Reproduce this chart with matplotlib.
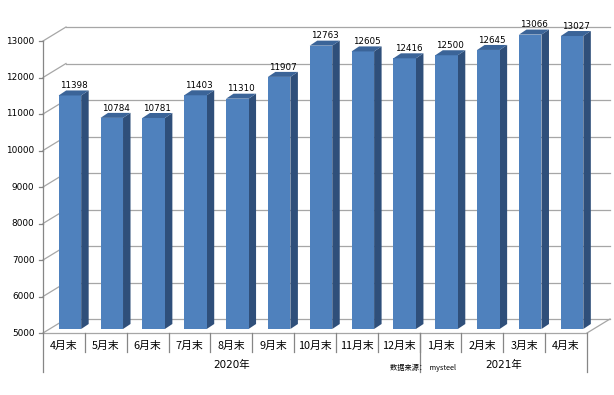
import numpy as np
import matplotlib
matplotlib.use("Agg")
import matplotlib.pyplot as plt
from matplotlib.patches import Polygon
import matplotlib.transforms as mtransforms

plt.rcParams['font.family'] = ['DejaVu Sans', 'Noto Sans CJK SC']

categories = ["4月末", "5月末", "6月末", "7月末", "8月末", "9月末", "10月末",
              "11月末", "12月末", "1月末", "2月末", "3月末", "4月末"]
values = [11398, 10784, 10781, 11403, 11310, 11907, 12763,
          12605, 12416, 12500, 12645, 13066, 13027]
years = ["2020年", "2021年"]
year_counts = [9, 4]
yticks = [5000, 6000, 7000, 8000, 9000, 10000, 11000, 12000, 13000]
source_text = "数据来源：  mysteel"

W, H = 614, 395
fig = plt.figure(figsize=(W / 100, H / 100), dpi=100)
fig.patch.set_facecolor("white")

X0, X1 = 43, 587      # pixel x of category edges -0.5 and 12.5
Y0, Y1 = 333, 41      # pixel y of 5000 and 13000
ax = fig.add_axes([X0 / W, 1 - Y0 / H, (X1 - X0) / W, (Y0 - Y1) / H])
n = len(values)
ymin, ymax = yticks[0], yticks[-1]
ax.set_xlim(-0.5, n - 0.5)
ax.set_ylim(ymin, ymax)
ax.axis("off")

cx = (X1 - X0) / n
cy = (Y0 - Y1) / (ymax - ymin)
dxp = lambda p: p / cx
dyp = lambda p: p / cy

WDX, WDY = dxp(23), dyp(14)     # wall depth
BDX, BDY = dxp(6), dyp(4)       # bar plane offset
SDX, SDY = dxp(7.5), dyp(5)     # bar depth
BW = dxp(22.5)                  # bar width

grid_c = "#a6a6a6"
axis_c = "#868686"
xl, xr = -0.5, n - 0.5

# back wall gridlines + left wall diagonals
for t in yticks:
    ax.plot([xl + WDX, xr + WDX], [t + WDY, t + WDY], color=grid_c, lw=0.9,
            clip_on=False, zorder=1)
    ax.plot([xl, xl + WDX], [t, t + WDY], color=grid_c, lw=0.9, clip_on=False, zorder=1)
# floor
ax.plot([xl, xr], [ymin, ymin], color=grid_c, lw=0.9, clip_on=False, zorder=1)
ax.plot([xr, xr + WDX], [ymin, ymin + WDY], color=grid_c, lw=0.9, clip_on=False, zorder=1)

# bars
x = np.arange(n)
vals = np.array(values, dtype=float)
ax.bar(x + BDX, vals - ymin, bottom=ymin + BDY, width=BW, color="#4f81bd",
       edgecolor="none", zorder=3, clip_on=False)
for xi, v in zip(x, vals):
    left = xi + BDX - BW / 2
    right = left + BW
    side = Polygon([(right, ymin + BDY), (right + SDX, ymin + BDY + SDY),
                    (right + SDX, v + BDY + SDY), (right, v + BDY)],
                   closed=True, facecolor="#2f4f7a", edgecolor="none",
                   zorder=2.9, clip_on=False)
    top = Polygon([(left, v + BDY), (left + SDX, v + BDY + SDY),
                   (right + SDX, v + BDY + SDY), (right, v + BDY)],
                  closed=True, facecolor="#3b6498", edgecolor="none",
                  zorder=3.1, clip_on=False)
    ax.add_patch(side)
    ax.add_patch(top)
    ax.annotate(f"{int(v)}", (xi + BDX + SDX / 2, v + BDY + SDY),
                xytext=(0, 1.6), textcoords="offset points",
                ha="center", va="baseline", fontsize=6.3, color="black",
                zorder=5, annotation_clip=False)

# y axis line, ticks and labels
bt = mtransforms.blended_transform_factory(ax.transData, fig.transFigure)
fy = lambda p: 1 - p / H
ax.plot([xl, xl], [fy(Y1), fy(372)], color=axis_c, lw=0.9, transform=bt, clip_on=False)
for t in yticks:
    ax.plot([xl - dxp(4), xl], [t, t], color=axis_c, lw=0.9, clip_on=False)
    ax.text(xl - dxp(8.5), t, f"{t}", ha="right", va="center", fontsize=6.4)

# category separators and labels
for k in range(1, n):
    ax.plot([k - 0.5, k - 0.5], [fy(Y0), fy(352)], color=axis_c, lw=0.9,
            transform=bt, clip_on=False)
start = 0
bounds = [0]
for c in year_counts:
    start += c
    bounds.append(start)
for b in bounds[1:]:
    ax.plot([b - 0.5, b - 0.5], [fy(Y0), fy(372)], color=axis_c, lw=0.9,
            transform=bt, clip_on=False)
for xi, lab in zip(x, categories):
    ax.text(xi, fy(346), lab, ha="center", va="center", fontsize=7.8,
            family=["Noto Sans CJK SC"], transform=bt)
for i, yl in enumerate(years):
    c = (bounds[i] + bounds[i + 1] - 1) / 2
    ax.text(c, fy(365), yl, ha="center", va="center", fontsize=7.5,
            family=["DejaVu Sans", "Noto Sans CJK SC"], transform=bt)

fig.text(423 / W, fy(368), source_text, ha="center", va="center", fontsize=5.2,
         family=["Noto Sans CJK SC", "DejaVu Sans"])

fig.savefig("out.png", dpi=100, facecolor="white")
